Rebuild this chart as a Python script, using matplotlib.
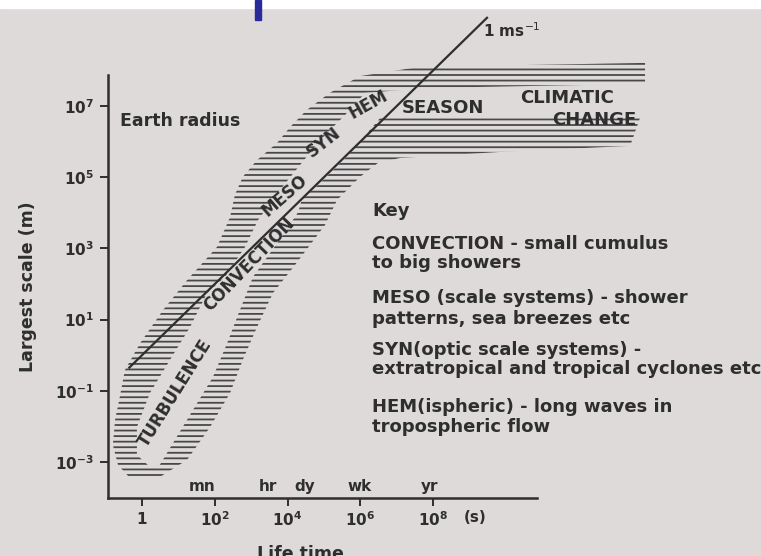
import numpy as np
import matplotlib
matplotlib.use('Agg')
import matplotlib.pyplot as plt
from matplotlib.ticker import NullLocator
from matplotlib.patches import Rectangle

# 寿命 t (s) 和 最大尺度 L (m)，都记成 10 的幂次
band_outer_logt = [-0.33, -0.66, -0.80, -0.74, -0.60, -0.47, -0.05, 0.58, 1.24, 2.06,
                   2.42, 2.55, 2.77, 3.16, 3.71, 4.07, 4.53, 5.16, 5.99, 7.64,
                   13.82, 13.82, 13.68, 13.41, 9.84, 7.09, 6.48, 5.99, 5.36, 5.03,
                   4.62, 4.20, 3.60, 3.16, 2.77, 2.42, 1.87, 1.24, 0.49]
band_outer_logL = [-3.45, -3.08, -2.52, -1.82, -1.12, -0.42, 0.34, 1.27, 2.11, 3.04,
                   3.88, 4.50, 5.01, 5.48, 5.96, 6.41, 6.89, 7.37, 7.84, 8.10,
                   8.21, 7.59, 6.66, 5.88, 5.71, 5.54, 5.40, 5.01, 4.36, 3.66,
                   3.10, 2.53, 1.75, 0.79, -0.13, -1.06, -2.02, -2.94, -3.42]

# 阴影带中间的空白区
band_hole_logt = [0.22, -0.14, -0.14, 0.22, 0.77, 1.32, 1.79, 2.28, 2.83, 3.19,
                  3.74, 4.34, 4.89, 5.58, 6.13, 7.91, 15.33, 15.33, 6.54, 5.65,
                  4.75, 4.40, 4.29, 3.93, 3.05, 2.69, 2.34, 1.95, 1.40, 0.85, 0.49]
band_hole_logL = [-3.14, -2.80, -2.02, -1.06, -0.13, 0.79, 1.75, 2.20, 3.04, 3.80,
                  4.58, 5.34, 6.04, 6.75, 7.37, 7.51, 7.65, 6.66, 6.66, 5.60,
                  4.70, 4.40, 4.02, 3.46, 2.20, 1.27, 0.34, -0.61, -1.54, -2.47, -3.08]

# 1 m/s 直线
speed = 1.0
line_logt = [-0.37, 9.5]

xtick_pow = [0, 2, 4, 6, 8]
ytick_pow = [-3, -1, 1, 3, 5, 7]

time_names = ['mn', 'hr', 'dy', 'wk', 'yr']
time_logt = [1.65, 3.46, 4.48, 5.99, 7.91]

band_names = ['TURBULENCE', 'CONVECTION', 'MESO', 'SYN', 'HEM', 'SEASON', 'CLIMATIC', 'CHANGE']
band_logt = [0.91, 2.94, 3.93, 5.00, 6.21, 8.27, 11.68, 12.42]
band_logL = [-1.06, 2.56, 4.50, 5.99, 7.03, 6.94, 7.22, 6.61]
band_rot = [58, 46, 41, 38, 29, 0, 0, 0]

key_lines = ['Key',
             'CONVECTION - small cumulus', 'to big showers',
             'MESO (scale systems) - shower', 'patterns, sea breezes etc',
             'SYN(optic scale systems) -', 'extratropical and tropical cyclones etc',
             'HEM(ispheric) - long waves in', 'tropospheric flow']

W, H = 761, 556
paper = '#dedada'
ink = '#2e2e2e'


def px(x, y):
    # 像素 -> figure 坐标
    return x / W, 1 - y / H


plt.rcParams['hatch.linewidth'] = 1.3
plt.rcParams['font.family'] = 'DejaVu Sans'

fig = plt.figure(figsize=(W / 100, H / 100), dpi=100, facecolor=paper)
fig.patches.append(Rectangle((0, 1 - 8 / H), 1, 8 / H, transform=fig.transFigure,
                             color='white', zorder=0))
fig.patches.append(Rectangle(px(255, 20), 6 / W, 20 / H, transform=fig.transFigure,
                             color='#2a2a9a', zorder=1))

ax = fig.add_axes([108 / W, 58 / H, 592 / W, 490 / H])
ax.set_facecolor('none')
ax.set_xscale('log')
ax.set_yscale('log')
ax.set_xlim(10 ** -0.934, 10 ** 15.33)
ax.set_ylim(10 ** -4.011, 10 ** 9.753)

# 阴影带 + 挖空
ax.fill(10 ** np.array(band_outer_logt), 10 ** np.array(band_outer_logL),
        facecolor='none', edgecolor='#484848', hatch='---', linewidth=0, zorder=1)
ax.fill(10 ** np.array(band_hole_logt), 10 ** np.array(band_hole_logL),
        facecolor=paper, edgecolor='none', zorder=2)

t = 10 ** np.array(line_logt)
ax.plot(t, speed * t, color=ink, lw=1.6, zorder=4, clip_on=False, solid_capstyle='butt')
ax.text(10 ** 9.37, 10 ** 9.13, '1 ms$^{-1}$', ha='left', va='center',
        fontsize=11, fontweight='bold', color=ink)

for name, lt, lL, rot in zip(band_names, band_logt, band_logL, band_rot):
    ax.text(10 ** lt, 10 ** lL, name, rotation=rot, rotation_mode='anchor',
            ha='center', va='center', fontsize=13 if rot == 0 else 12,
            fontweight='bold', color=ink, zorder=5)

for name, lt in zip(time_names, time_logt):
    ax.text(10 ** lt, 10 ** -3.70, name, ha='center', va='center',
            fontsize=11, fontweight='bold', color=ink)

# 坐标轴
for s in ['top', 'right']:
    ax.spines[s].set_visible(False)
ax.spines['left'].set_bounds(10 ** -4.011, 10 ** 7.87)
ax.spines['bottom'].set_bounds(10 ** -0.934, 10 ** 10.85)
for s in ['left', 'bottom']:
    ax.spines[s].set_linewidth(1.8)
    ax.spines[s].set_color(ink)

ax.set_xticks([10.0 ** p for p in xtick_pow])
ax.set_xticklabels([r'$\mathbf{1}$' if p == 0 else r'$\mathbf{10^{%d}}$' % p for p in xtick_pow])
ax.set_yticks([10.0 ** p for p in ytick_pow])
ax.set_yticklabels([r'$\mathbf{10^{%d}}$' % p for p in ytick_pow])
ax.xaxis.set_minor_locator(NullLocator())
ax.yaxis.set_minor_locator(NullLocator())
ax.tick_params(direction='out', length=6, width=1.4, color=ink, labelcolor=ink, labelsize=11)
ax.tick_params(axis='x', pad=3)
ax.tick_params(axis='y', pad=4)

ax.set_ylabel('Largest scale (m)', fontsize=12.5, fontweight='bold', color=ink)
ax.yaxis.set_label_coords((37 - 108) / 592, (498 - 287) / 490)
ax.set_xlabel('Life time', fontsize=12.5, fontweight='bold', color=ink)
ax.xaxis.set_label_coords((300 - 108) / 592, (498 - 545) / 490)

fig.text(*px(475, 517), '(s)', ha='center', va='center', fontsize=11,
         fontweight='bold', color=ink)
fig.text(*px(120, 121), 'Earth radius', ha='left', va='center', fontsize=12.5,
         fontweight='bold', color=ink)

key_y = [211, 244, 263, 298, 319, 350, 369, 407, 427]
for line, y in zip(key_lines, key_y):
    fig.text(*px(372, y), line, ha='left', va='center', fontsize=13,
             fontweight='bold', color=ink)

fig.savefig('out.png', dpi=100, facecolor=paper)
